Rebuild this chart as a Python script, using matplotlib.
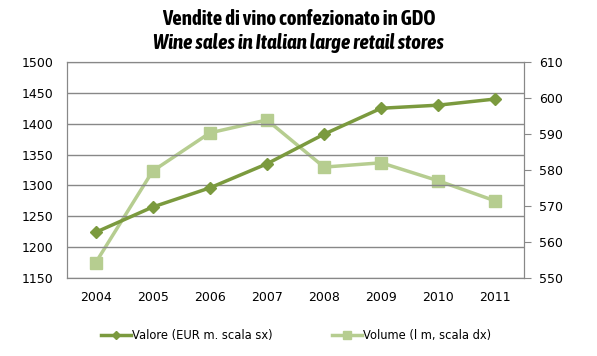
import matplotlib.pyplot as plt

years = ['2004', '2005', '2006', '2007', '2008', '2009', '2010', '2011']
valore = [1224, 1265, 1296, 1335, 1383, 1425, 1430, 1440]
volume = [554.2, 579.7, 590.3, 593.9, 580.8, 582.0, 577.0, 571.4]

c_val = '#7b9a3e'
c_vol = '#b6cd90'
title_font = ['Asap Condensed', 'DejaVu Sans']

fig = plt.figure(figsize=(5.97, 3.56), dpi=100)
ax1 = fig.add_axes([0.1122, 0.219, 0.7655, 0.607])
x = range(len(years))

ax2 = ax1.twinx()
l2, = ax2.plot(x, volume, color=c_vol, lw=2.5, marker='s', ms=8, label='Volume (l m, scala dx)')
l1, = ax1.plot(x, valore, color=c_val, lw=2.5, marker='D', ms=6, label='Valore (EUR m. scala sx)')
ax1.set_zorder(ax2.get_zorder() + 1)
ax1.patch.set_visible(False)
ax2.set_facecolor('#efefef')

ax1.set_xlim(-0.5, 7.5)
ax1.set_ylim(1150, 1500)
ax1.set_yticks(range(1150, 1501, 50))
ax2.set_ylim(550, 610)
ax2.set_yticks(range(550, 611, 10))
ax1.set_xticks(list(x))
ax1.set_xticklabels(years)
ax1.yaxis.grid(True, color='#888888', lw=1)
ax1.set_axisbelow(True)

for ax in (ax1, ax2):
    for s in ax.spines.values():
        s.set_color('#888888')
    ax.tick_params(labelsize=9, colors='#888888', labelcolor='black')
ax1.tick_params(axis='y', length=0, pad=10)
ax1.tick_params(axis='x', length=0, pad=9)
ax2.tick_params(axis='y', length=5, pad=6)

fig.text(0.5, 0.948, 'Vendite di vino confezionato in GDO', ha='center', va='center',
         fontsize=15, fontweight='bold', family=title_font)
fig.text(0.5, 0.878, 'Wine sales in Italian large retail stores', ha='center', va='center',
         fontsize=15, fontweight='bold', style='italic', family=title_font)

fig.legend(handles=[l1, l2], loc='center', bbox_to_anchor=(0.496, 0.058), ncol=2,
           frameon=False, fontsize=8.3, handlelength=2.6, handletextpad=0.1,
           columnspacing=5.1, markerscale=0.7)

plt.savefig('out.png', dpi=100)
